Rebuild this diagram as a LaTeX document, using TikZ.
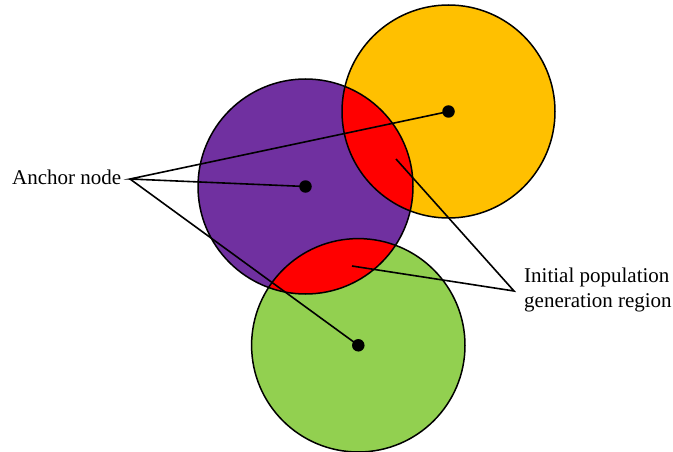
\documentclass[tikz,border=0pt]{standalone}
\usepackage{fontspec}
\setmainfont{Liberation Serif}
\definecolor{corange}{HTML}{FFC000}
\definecolor{cpurple}{HTML}{7030A0}
\definecolor{cgreen}{HTML}{92D050}
\definecolor{cred}{HTML}{FF0000}
\begin{document}
\begin{tikzpicture}[x=1pt,y=-1pt,
  ring/.style={draw=black,line width=1.5pt},
  dotnode/.style={circle,fill=black,inner sep=0pt,minimum size=12.5pt},
  leader/.style={draw=black,line width=1.6pt},
  lbl/.style={font=\fontsize{21}{25}\selectfont,inner sep=0pt}]
\useasboundingbox (0,0) rectangle (673,452);
\coordinate (co) at (448.5,111.5);
\coordinate (cp) at (305.5,186.5);
\coordinate (cg) at (358.3,345.3);
\def\ro{106.5}\def\rp{107.5}\def\rg{106.7}
% fills
\fill[corange] (co) circle[radius=\ro];
\fill[cpurple] (cp) circle[radius=\rp];
\fill[cgreen] (cg) circle[radius=\rg];
\begin{scope}
  \clip (cp) circle[radius=\rp];
  \fill[cred] (co) circle[radius=\ro];
  \fill[cred] (cg) circle[radius=\rg];
\end{scope}
% outlines
\draw[ring] (co) circle[radius=\ro];
\draw[ring] (cp) circle[radius=\rp];
\draw[ring] (cg) circle[radius=\rg];
% dots
\node[dotnode] (do) at (co) {};
\node[dotnode] (dp) at (cp) {};
\node[dotnode] (dg) at (cg) {};
% labels
\node[lbl,anchor=east] (anc) at (121.5,177) {Anchor node};
\coordinate (ap) at (130,179);
\node[lbl,anchor=west,align=left] (reg) at (524,290) {Initial population\\generation region};
\coordinate (rp) at (514,291);
\coordinate (r1) at (396,159);
\coordinate (r2) at (352,266);
% leaders
\draw[leader] (do.center) -- (ap) -- (dp.center);
\draw[leader] (ap) -- (dg.center);
\draw[leader] (r1) -- (rp) -- (r2);
\end{tikzpicture}
\end{document}
